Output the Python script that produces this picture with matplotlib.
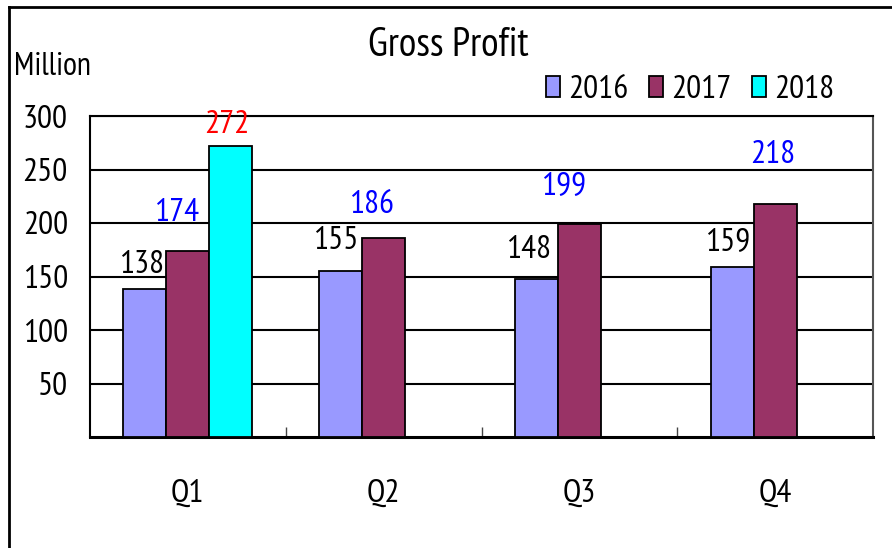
import matplotlib
matplotlib.use("Agg")
import matplotlib.pyplot as plt
from matplotlib.lines import Line2D
import numpy as np

quarters = ["Q1", "Q2", "Q3", "Q4"]
years = ["2016", "2017", "2018"]
gp_2016 = [138, 155, 148, 159]
gp_2017 = [174, 186, 199, 218]
gp_2018 = [272, np.nan, np.nan, np.nan]
yticks = [50, 100, 150, 200, 250, 300]

COLORS = ["#9999FF", "#993366", "#00FFFF"]
LABEL_COLORS = ["black", "#0000FF", "#FF0000"]
# label offsets in pixels (dx, dy) from each bar top, per series / quarter
OFFSETS = [
    [(-3, 24), (-5, 30), (-8, 29), (-4, 24)],
    [(-11, 38), (-12, 33), (-16, 37), (-2, 49)],
    [(-4, 21), (0, 0), (0, 0), (0, 0)],
]

plt.rcParams["font.family"] = ["PT Sans Narrow", "Fira Sans Condensed",
                               "DejaVu Sans"]
FS = 24

fig = plt.figure(figsize=(8.92, 5.48), dpi=100)
ax = fig.add_axes([90 / 892, 111 / 548, 783 / 892, 321 / 548])

x = np.arange(len(quarters))
w = 0.22
series = [gp_2016, gp_2017, gp_2018]
for k, (vals, col) in enumerate(zip(series, COLORS)):
    vals = np.asarray(vals, dtype=float)
    ok = ~np.isnan(vals)
    ax.bar(x[ok] + (k - 1) * w, vals[ok], width=w, color=col,
           edgecolor="black", linewidth=1.3, label=years[k], zorder=3)
    for i in np.where(ok)[0]:
        dx, dy = OFFSETS[k][i]
        ax.annotate(f"{vals[i]:.0f}", xy=(x[i] + (k - 1) * w, vals[i]),
                    xytext=(dx, dy), textcoords="offset pixels",
                    ha="center", va="center", fontsize=FS,
                    color=LABEL_COLORS[k], zorder=4)

ax.set_xlim(-0.5, len(quarters) - 0.5)
ax.set_ylim(0, 300)
ax.set_yticks(yticks)
ax.set_yticklabels([str(v) for v in yticks])
ax.yaxis.grid(True, color="black", linewidth=1.5, zorder=0)
ax.set_axisbelow(True)
ax.tick_params(axis="y", length=0, pad=16, labelsize=FS)

ax.set_xticks(x)
ax.set_xticklabels(quarters)
ax.tick_params(axis="x", which="major", length=0, pad=30, labelsize=FS)
ax.set_xticks(x[:-1] + 0.5, minor=True)
ax.tick_params(axis="x", which="minor", direction="in", length=7,
               width=1, color="#444444")

for side in ["left", "top"]:
    ax.spines[side].set_linewidth(1.5)
ax.spines["bottom"].set_linewidth(2.2)
ax.spines["right"].set_color("#555555")
ax.spines["right"].set_linewidth(1.5)

fig.text(448 / 892, 1 - 46 / 548, "Gross Profit", ha="center", va="center",
         fontsize=29)
fig.text(14 / 892, 1 - 67 / 548, "Million", ha="left", va="center",
         fontsize=FS - 1)

fig.legend(loc="center", bbox_to_anchor=(690 / 892, 1 - 90 / 548), ncol=3,
           frameon=False, fontsize=FS, handlelength=0.42, handleheight=0.6,
           handletextpad=0.25, columnspacing=0.62, borderpad=0)

# outer frame (left and top edges visible)
fig.add_artist(Line2D([9 / 892, 9 / 892], [0, 1 - 7 / 548], color="black",
                      linewidth=2, transform=fig.transFigure))
fig.add_artist(Line2D([9 / 892, 1], [1 - 7 / 548, 1 - 7 / 548], color="black",
                      linewidth=2, transform=fig.transFigure))

fig.savefig("out.png", dpi=100, facecolor="white")
